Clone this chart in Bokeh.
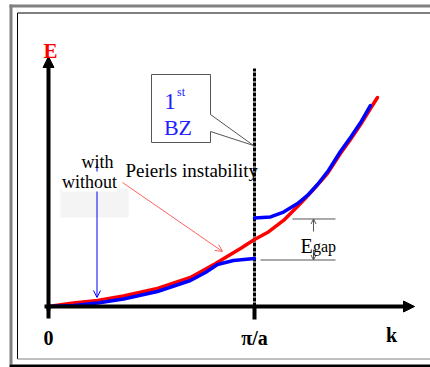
from bokeh.plotting import figure
from bokeh.models import (Label, Arrow, NormalHead, OpenHead,
                          PolyAnnotation, BoxAnnotation, Range1d)
from bokeh.embed import file_html
from bokeh.resources import INLINE

# ---- data: k in units of pi/a, E in units of the free-electron E(pi/a) ----
k_free = [0, 0.121, 0.238, 0.364, 0.529, 0.689, 0.811, 0.932, 1.0, 1.063,
          1.141, 1.223, 1.286, 1.354, 1.417, 1.466, 1.515, 1.563, 1.597]
E_free = [0, 0.052, 0.090, 0.157, 0.269, 0.433, 0.642, 0.866, 1.0, 1.104,
          1.284, 1.537, 1.746, 1.985, 2.284, 2.493, 2.716, 2.955, 3.119]

k_lower = [0, 0.121, 0.238, 0.364, 0.529, 0.689, 0.762, 0.820, 0.898, 1.0]
E_lower = [0, 0.015, 0.052, 0.112, 0.224, 0.388, 0.507, 0.627, 0.687, 0.716]

k_upper = [1.0, 1.078, 1.141, 1.209, 1.257, 1.306, 1.359, 1.417, 1.466, 1.515, 1.563]
E_upper = [1.321, 1.336, 1.410, 1.537, 1.657, 1.821, 2.030, 2.313, 2.522, 2.746, 3.0]

E_gap_top = 1.306
E_gap_bottom = 0.694
k_zone = 1.0
tick_pos = [0, 1.0]
tick_labels = ["0", "π/a"]

# ---- layout (pixel scale of the drawing) ----
W, H = 430, 367
OX, OY = 48, 306          # origin in pixels
PK, PE = 206.0, 67.0      # pixels per unit

def X(px):  # pixel x -> data k
    return (px - OX) / PK

def Y(py):  # pixel y -> data E
    return (OY - py) / PE

p = figure(width=W, height=H, output_backend="svg", toolbar_location=None,
           x_axis_type=None, y_axis_type=None,
           x_range=Range1d(X(0), X(W)), y_range=Range1d(Y(H), Y(0)),
           min_border=0, outline_line_color=None,
           background_fill_color="white", border_fill_color="white")

SERIF = "Liberation Serif"
GRAY = "#555555"

# ---- frame ----
p.segment(x0=[X(9), X(10.5)], y0=[Y(5.5), Y(4)], x1=[X(431), X(10.5)], y1=[Y(5.5), Y(364)],
          line_color="#808080", line_width=3)
p.segment(x0=[X(9)], y0=[Y(365.5)], x1=[X(431)], y1=[Y(365.5)],
          line_color="black", line_width=3)
p.segment(x0=[X(17), X(17), X(17)], y0=[Y(12.5), Y(12.5), Y(358.5)],
          x1=[X(431), X(17), X(431)], y1=[Y(12.5), Y(358.5), Y(358.5)],
          line_color=["black", "black", "#808080"], line_width=1)

# ---- gray box behind "with/without" ----
p.add_layout(BoxAnnotation(left=X(60), right=X(128), top=Y(188), bottom=Y(217),
                           fill_color="#f4f4f4", fill_alpha=1, line_color=None,
                           level="underlay"))

# ---- zone boundary (dashed) and ticks ----
p.segment(x0=[k_zone], y0=[0], x1=[k_zone], y1=[Y(68)], line_color="black",
          line_width=3, line_dash="4 1")
p.segment(x0=tick_pos, y0=[0, 0], x1=tick_pos, y1=[Y(318), Y(319)],
          line_color="black", line_width=4)

# ---- curves ----
p.line(k_free, E_free, line_color="#ff0000", line_width=3.5, line_join="round", line_cap="round")
p.line(k_lower, E_lower, line_color="#0000ff", line_width=3.5, line_join="round", line_cap="round")
p.line(k_upper, E_upper, line_color="#0000ff", line_width=3.5, line_join="round", line_cap="round")

# ---- Egap markers ----
p.segment(x0=[X(292), X(260)], y0=[E_gap_top, E_gap_bottom],
          x1=[X(335), X(335)], y1=[E_gap_top, E_gap_bottom],
          line_color=GRAY, line_width=1)
p.add_layout(Arrow(x_start=X(313), y_start=Y(231), x_end=X(313), y_end=E_gap_top,
                   line_color=GRAY, line_width=1,
                   end=OpenHead(size=5, line_color=GRAY, line_width=1)))
p.add_layout(Arrow(x_start=X(313), y_start=Y(249), x_end=X(313), y_end=E_gap_bottom,
                   line_color=GRAY, line_width=1,
                   end=OpenHead(size=5, line_color=GRAY, line_width=1)))
p.add_layout(Label(x=X(300), y=Y(245), text="E", text_font=SERIF, text_font_size="20px",
                   text_color="black", text_align="left", text_baseline="alphabetic"))
p.add_layout(Label(x=X(312.5), y=Y(246), text="gap", text_font=SERIF, text_font_size="16px",
                   text_color="black", text_align="left", text_baseline="alphabetic"))

# ---- axes with arrow heads ----
p.add_layout(Arrow(x_start=0, y_start=Y(310), x_end=0, y_end=Y(56), line_color="black",
                   line_width=4, end=NormalHead(size=11, fill_color="black", line_color="black")))
p.add_layout(Arrow(x_start=X(44), y_start=0, x_end=X(414), y_end=0, line_color="black",
                   line_width=4, end=NormalHead(size=11, fill_color="black", line_color="black")))

for pos, lab in zip(tick_pos, tick_labels):
    p.add_layout(Label(x=pos, y=Y(337), text=lab, text_font=SERIF, text_font_size="20px",
                       text_font_style="bold", text_color="black", text_align="center",
                       text_baseline="alphabetic"))
p.add_layout(Label(x=X(391), y=Y(334), text="k", text_font=SERIF, text_font_size="20px",
                   text_font_style="bold", text_color="black", text_align="center",
                   text_baseline="alphabetic"))
p.add_layout(Label(x=X(50), y=Y(50), text="E", text_font=SERIF, text_font_size="21px",
                   text_font_style="bold", text_color="#ff0000", text_align="center",
                   text_baseline="alphabetic"))

# ---- callout "1st BZ" ----
p.add_layout(PolyAnnotation(xs=[X(151), X(210), X(210), X(253), X(210), X(210), X(151)],
                            ys=[Y(74), Y(74), Y(114), Y(145), Y(131), Y(142), Y(142)],
                            fill_color="white", fill_alpha=1, line_color=GRAY,
                            line_alpha=1, line_width=1))
BLUE_T = "#2020ff"
p.add_layout(Label(x=X(169.5), y=Y(101), text="1", text_font=SERIF, text_font_size="23px",
                   text_color=BLUE_T, text_align="center", text_baseline="alphabetic"))
p.add_layout(Label(x=X(176.5), y=Y(91), text="st", text_font=SERIF, text_font_size="12px",
                   text_color=BLUE_T, text_align="left", text_baseline="alphabetic"))
p.add_layout(Label(x=X(177.5), y=Y(127), text="BZ", text_font=SERIF, text_font_size="22px",
                   text_color=BLUE_T, text_align="center", text_baseline="alphabetic"))

# ---- pointer arrows ----
p.add_layout(Arrow(x_start=X(96.5), y_start=Y(164), x_end=X(96.5), y_end=Y(297),
                   line_color="#0000ff", line_width=1,
                   end=OpenHead(size=7, line_color="#0000ff", line_width=1)))
p.add_layout(Arrow(x_start=X(122), y_start=Y(182), x_end=X(222), y_end=Y(251),
                   line_color="#ff6060", line_width=1,
                   end=OpenHead(size=7, line_color="#ff6060", line_width=1)))

# ---- texts ----
p.add_layout(Label(x=X(97), y=Y(161), text="with", text_font=SERIF, text_font_size="18px",
                   text_color="black", text_align="center", text_baseline="alphabetic"))
p.add_layout(Label(x=X(89), y=Y(181), text="without", text_font=SERIF, text_font_size="18px",
                   text_color="black", text_align="center", text_baseline="alphabetic",
                   background_fill_color="white", background_fill_alpha=1))
p.add_layout(Label(x=X(125), y=Y(170), text="Peierls instability", text_font=SERIF,
                   text_font_size="19px", text_color="black", text_align="left",
                   text_baseline="alphabetic"))

open("out.html", "w").write(file_html(p, INLINE))
